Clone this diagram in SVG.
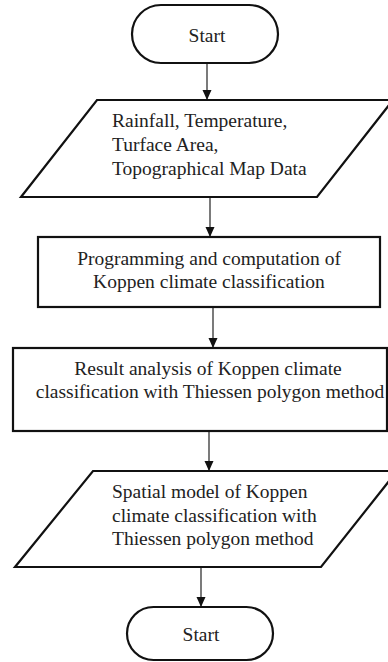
<svg xmlns="http://www.w3.org/2000/svg" width="388" height="662" viewBox="0 0 388 662">
<style>
.shape{fill:#fff;stroke:#111;stroke-width:2.2}
.t{font-family:"Liberation Serif","Times New Roman",serif;font-size:19.5px;fill:#222}
.c{text-anchor:middle}
.conn{stroke:#222;stroke-width:1.2;fill:none}
</style>
<defs>
<marker id="ah" markerWidth="10" markerHeight="10" refX="9" refY="5" orient="auto" markerUnits="userSpaceOnUse">
<path d="M0,0.5 L10,5 L0,9.5 Z" fill="#111"/>
</marker>
</defs>
<rect width="388" height="662" fill="#fff"/>
<g id="connectors">
<line class="conn" x1="207" y1="64" x2="207" y2="99" marker-end="url(#ah)"/>
<line class="conn" x1="210" y1="198" x2="210" y2="236" marker-end="url(#ah)"/>
<line class="conn" x1="213" y1="308" x2="213" y2="347" marker-end="url(#ah)"/>
<line class="conn" x1="209" y1="432" x2="209" y2="470" marker-end="url(#ah)"/>
<line class="conn" x1="201" y1="568" x2="201" y2="606" marker-end="url(#ah)"/>
</g>
<g id="start1">
<rect class="shape" x="132" y="5" width="146" height="58" rx="29"/>
<text class="t c" x="207" y="42">Start</text>
</g>
<g id="input1">
<polygon class="shape" points="97,100 393,100 317,197 21,197"/>
<text class="t" x="112" y="127">Rainfall, Temperature,</text>
<text class="t" x="112" y="151">Turface Area,</text>
<text class="t" x="112" y="175">Topographical Map Data</text>
</g>
<g id="process1">
<rect class="shape" x="38" y="237" width="342" height="70"/>
<text class="t c" x="209" y="265">Programming and computation of</text>
<text class="t c" x="209" y="288">Koppen climate classification</text>
</g>
<g id="process2">
<rect class="shape" x="13" y="348" width="374" height="83"/>
<text class="t c" x="208" y="375">Result analysis of Koppen climate</text>
<text class="t c" x="210" y="398">classification with Thiessen polygon method</text>
</g>
<g id="output1">
<polygon class="shape" points="93,471 397,471 321,567 15,567"/>
<text class="t" x="112" y="498">Spatial model of Koppen</text>
<text class="t" x="112" y="522">climate classification with</text>
<text class="t" x="112" y="545">Thiessen polygon method</text>
</g>
<g id="start2">
<rect class="shape" x="127" y="607" width="146" height="53" rx="26.5"/>
<text class="t c" x="201" y="641">Start</text>
</g>
</svg>
